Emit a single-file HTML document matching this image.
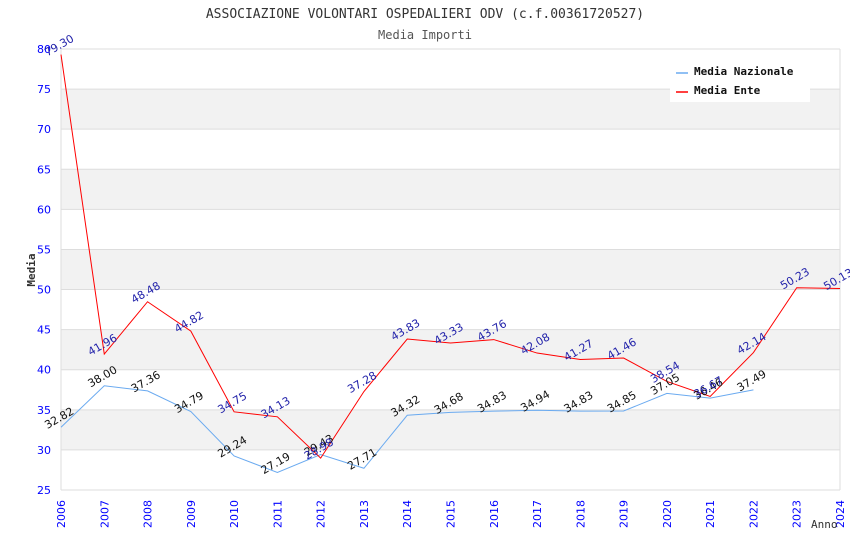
<!DOCTYPE html>
<html><head><meta charset="utf-8"><style>
body{margin:0;background:#fff;}
svg text{font-family:"DejaVu Sans","Liberation Sans",sans-serif;}
.mono{font-family:"DejaVu Sans Mono","Liberation Mono",monospace !important;}
</style></head><body>
<svg id="chart" width="850" height="550" xmlns="http://www.w3.org/2000/svg">
<text class="mono" x="425" y="18" text-anchor="middle" font-size="13" fill="#333">ASSOCIAZIONE VOLONTARI OSPEDALIERI ODV (c.f.00361720527)</text>
<text class="mono" x="425" y="39" text-anchor="middle" font-size="12" fill="#555">Media Importi</text>
<g id="bands"></g><g id="grid"></g><g id="ticks"></g><g id="series"></g><g id="labels"></g>
<text class="mono" x="35" y="270" text-anchor="middle" font-size="11" fill="#333" font-weight="bold" transform="rotate(-90 35 270)">Media</text>
<text class="mono" x="811" y="528" font-size="11" fill="#333">Anno</text>
<g>
<rect x="670" y="60" width="140" height="42" fill="#fff"/>
<line x1="676" y1="73" x2="688" y2="73" stroke="#6aaaf0" stroke-width="1.5"/>
<text class="mono" x="694" y="75" font-size="11" font-weight="bold" fill="#111">Media Nazionale</text>
<line x1="676" y1="92" x2="688" y2="92" stroke="#f00" stroke-width="1.5"/>
<text class="mono" x="694" y="94" font-size="11" font-weight="bold" fill="#111">Media Ente</text>
</g>
</svg>
<script>
const years=[2006,2007,2008,2009,2010,2011,2012,2013,2014,2015,2016,2017,2018,2019,2020,2021,2022,2023,2024];
const nazionale=[32.82,38.00,37.36,34.79,29.24,27.19,29.43,27.71,34.32,34.68,34.83,34.94,34.83,34.85,37.05,36.46,37.49,null,null];
const ente=[79.30,41.96,48.48,44.82,34.75,34.13,28.98,37.28,43.83,43.33,43.76,42.08,41.27,41.46,38.54,36.67,42.14,50.23,50.13];
const yTicks=[25,30,35,40,45,50,55,60,65,70,75,80];
const NS='http://www.w3.org/2000/svg';
const X0=61,X1=840,Y0=490,Y1=49;
const xs=y=>X0+(y-2006)/(2024-2006)*(X1-X0);
const ys=v=>Y0-(v-25)/(80-25)*(Y0-Y1);
function mk(tag,attrs,parent){const e=document.createElementNS(NS,tag);for(const k in attrs)e.setAttribute(k,attrs[k]);document.getElementById(parent).appendChild(e);return e;}
for(let i=0;i<yTicks.length-1;i++){
  const a=yTicks[i],b=yTicks[i+1];
  if(a%10===0){const r=mk('rect',{x:X0,y:ys(b),width:X1-X0,height:ys(a)-ys(b),fill:'#f2f2f2'},'bands');
  
  }
}
yTicks.forEach(t=>{
  const l=mk('line',{x1:X0,x2:X1,y1:ys(t),y2:ys(t),stroke:'#ddd'},'grid');
  
  
  const tx=mk('text',{x:X0-10,y:ys(t)+4,'text-anchor':'end','font-size':11,fill:'#00f'},'ticks');
  tx.textContent=t;
  
  
});
const bl=mk('line',{x1:X1,x2:X1,y1:Y1,y2:Y0,stroke:'#ddd'},'grid');


const ll=mk('line',{x1:X0,x2:X0,y1:Y1,y2:Y0,stroke:'#ddd'},'grid');


years.forEach(y=>{
  const x=xs(y)+4;
  const t=mk('text',{x:x,y:500,'text-anchor':'end','font-size':11,fill:'#00f',transform:`rotate(-90 ${x} 500)`},'ticks');
  t.textContent=y;
  
  
});
function series(vals,color,name,lblColor){
  let d='';vals.forEach((v,i)=>{if(v==null)return;d+=(d?'L':'M')+xs(years[i])+','+ys(v);});
  const p=mk('path',{d:d,fill:'none',stroke:color,'stroke-width':1},'series');
  
  
  vals.forEach((v,i)=>{if(v==null)return;
    const x=xs(years[i]),y=ys(v)-6;
    const t=mk('text',{x:x,y:y,'text-anchor':'middle','font-size':11,fill:lblColor,transform:`rotate(-30 ${x} ${y})`},'labels');
    t.textContent=v.toFixed(2);
    
    
  });
}
series(nazionale,'#6aaaf0','nazionale','#111');
series(ente,'#f00','ente','#2222aa');
</script>
</body></html>
